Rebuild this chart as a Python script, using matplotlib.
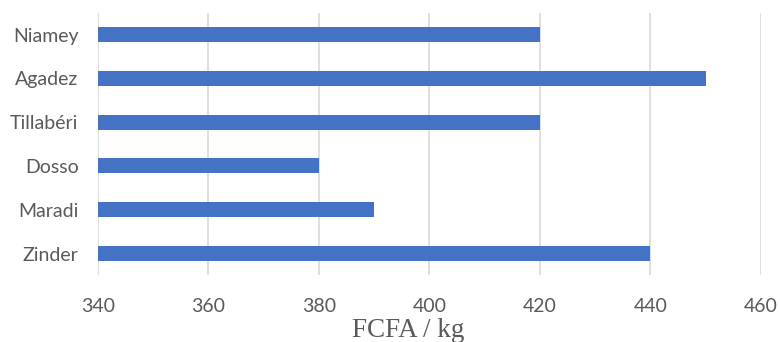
import matplotlib
matplotlib.use('Agg')
import matplotlib.pyplot as plt

# prix par région (FCFA / kg)
regions = ['Niamey', 'Agadez', 'Tillabéri', 'Dosso', 'Maradi', 'Zinder']
prix = [420, 450, 420, 380, 390, 440]
xticks = [340, 360, 380, 400, 420, 440, 460]

fig = plt.figure(figsize=(7.8, 3.42), dpi=100)
ax = fig.add_axes([0.1256, 0.1947, 0.85, 0.7683])

ypos = list(range(len(regions)))
ax.barh(ypos, [p - 340 for p in prix], left=340, height=0.34, color='#4472C4', zorder=3)

ax.set_xlim(340, 460)
ax.set_ylim(len(regions) - 0.5, -0.5)
ax.set_xticks(xticks)
ax.set_yticks(ypos)
ax.set_yticklabels(regions, fontsize=14, color='#595959', family=['Lato', 'DejaVu Sans'])
ax.set_xticklabels([str(t) for t in xticks], fontsize=14, color='#595959', family=['Lato', 'DejaVu Sans'])
ax.tick_params(axis='both', length=0)
ax.tick_params(axis='y', pad=14)
ax.tick_params(axis='x', pad=16)
ax.grid(axis='x', color='#D9D9D9', linewidth=1.2, zorder=0)
for s in ax.spines.values():
    s.set_visible(False)

lbl = ax.set_xlabel('FCFA / kg', fontsize=19.5, color='#595959', family='Liberation Serif')
lbl.set_va('baseline')
ax.xaxis.set_label_coords(0.4676, -0.2344)

fig.savefig('out.png', dpi=100)
